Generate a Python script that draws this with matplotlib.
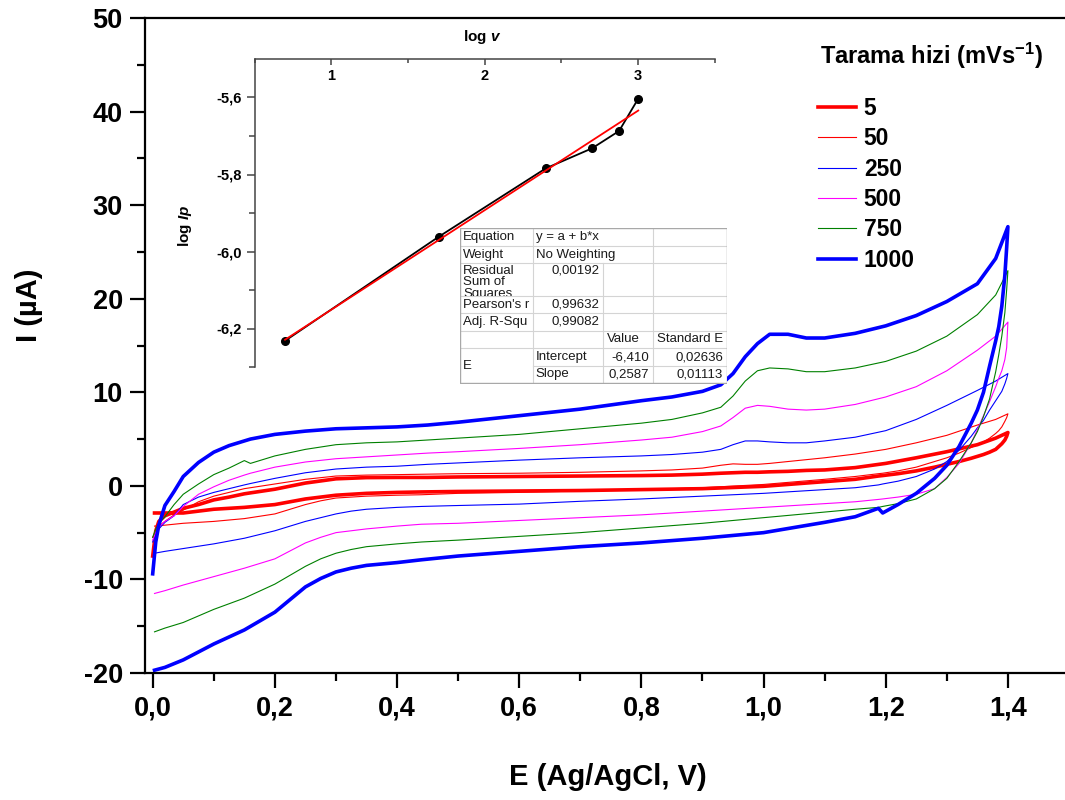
import numpy as np
import matplotlib
matplotlib.use('Agg')
import matplotlib.pyplot as plt
from matplotlib.patches import Rectangle

plt.rcParams['font.family'] = ['Liberation Sans', 'DejaVu Sans']
plt.rcParams['font.weight'] = 'bold'
plt.rcParams['mathtext.fontset'] = 'custom'
plt.rcParams['mathtext.rm'] = 'Liberation Sans:bold'
plt.rcParams['mathtext.bf'] = 'Liberation Sans:bold'
plt.rcParams['mathtext.it'] = 'Liberation Sans:italic:bold'

# --- CV data ---
# forward scan 0 -> 1.4 V
E_fwd = [0.000, 0.005, 0.010, 0.020, 0.035, 0.050, 0.075, 0.100, 0.125, 0.150,
         0.160, 0.200, 0.250, 0.300, 0.350, 0.400, 0.450, 0.500, 0.600, 0.700,
         0.800, 0.850, 0.900, 0.930, 0.950, 0.970, 0.990, 1.010, 1.040, 1.070,
         1.100, 1.150, 1.200, 1.250, 1.300, 1.350, 1.380, 1.400]
# reverse scan 1.4 -> 0 V
E_rev = [1.400, 1.398, 1.395, 1.390, 1.385, 1.380, 1.370, 1.360, 1.350, 1.340,
         1.320, 1.300, 1.280, 1.250, 1.220, 1.195, 1.188, 1.150, 1.100, 1.000,
         0.900, 0.800, 0.700, 0.600, 0.500, 0.440, 0.400, 0.350, 0.325, 0.300,
         0.275, 0.250, 0.200, 0.150, 0.100, 0.050, 0.020, 0.003]

i_fwd_5 = [-7.5, -4.8, -3.8, -3.2, -2.8, -2.4, -2.0, -1.5, -1.2, -0.85,
           -0.75, -0.36, 0.3, 0.75, 0.88, 0.9, 0.9, 0.95, 1.0, 1.05,
           1.1, 1.15, 1.25, 1.35, 1.4, 1.45, 1.45, 1.5, 1.55, 1.65,
           1.7, 1.95, 2.4, 3.0, 3.65, 4.4, 5.1, 5.7]
i_rev_5 = [5.7, 5.3, 4.9, 4.5, 4.2, 3.9, 3.6, 3.35, 3.15, 2.95,
           2.6, 2.3, 2.0, 1.6, 1.3, 1.1, 1.05, 0.7, 0.45, -0.05,
           -0.3, -0.4, -0.5, -0.55, -0.6, -0.65, -0.7, -0.8, -0.9, -1.0,
           -1.2, -1.4, -2.0, -2.3, -2.5, -2.9, -2.9, -2.9]

i_fwd_50 = [-5.5, -4.8, -4.3, -3.8, -3.1, -2.6, -1.7, -1.1, -0.7, -0.3,
            -0.2, 0.2, 0.7, 1.05, 1.15, 1.2, 1.25, 1.3, 1.35, 1.45,
            1.6, 1.7, 1.9, 2.2, 2.35, 2.3, 2.3, 2.4, 2.6, 2.8,
            3.0, 3.4, 3.9, 4.6, 5.4, 6.5, 7.1, 7.7]
i_rev_50 = [7.7, 7.3, 6.9, 6.3, 5.9, 5.6, 5.1, 4.7, 4.4, 4.1,
            3.5, 3.0, 2.6, 2.0, 1.6, 1.35, 1.3, 1.0, 0.7, 0.15,
            -0.2, -0.4, -0.55, -0.7, -0.8, -0.95, -1.0, -1.1, -1.2, -1.3,
            -1.6, -2.0, -3.0, -3.5, -3.8, -4.0, -4.2, -4.3]

i_fwd_250 = [-6.0, -5.2, -4.6, -3.9, -3.2, -2.0, -1.2, -0.7, -0.3, 0.1,
             0.25, 0.8, 1.4, 1.8, 2.0, 2.1, 2.3, 2.45, 2.75, 3.0,
             3.2, 3.35, 3.6, 3.9, 4.4, 4.8, 4.8, 4.7, 4.6, 4.6,
             4.8, 5.2, 5.9, 7.1, 8.6, 10.2, 11.2, 12.0]
i_rev_250 = [12.0, 11.5, 10.9, 10.1, 9.6, 9.1, 8.1, 7.0, 6.2, 5.3,
             3.8, 2.6, 1.8, 1.0, 0.5, 0.2, 0.1, -0.2, -0.4, -0.8,
             -1.1, -1.4, -1.65, -1.95, -2.1, -2.2, -2.3, -2.5, -2.7, -3.0,
             -3.4, -3.8, -4.8, -5.6, -6.2, -6.7, -7.0, -7.2]

i_fwd_500 = [-5.8, -5.0, -4.4, -3.8, -3.2, -2.2, -0.9, -0.1, 0.6, 1.15,
             1.35, 2.0, 2.55, 2.9, 3.1, 3.3, 3.5, 3.65, 4.0, 4.4,
             4.9, 5.2, 5.8, 6.4, 7.3, 8.3, 8.6, 8.5, 8.2, 8.1,
             8.2, 8.7, 9.5, 10.6, 12.3, 14.5, 16.0, 17.5]
i_rev_500 = [17.5, 14.8, 13.5, 12.3, 11.5, 10.6, 9.0, 7.5, 6.0, 4.6,
             2.4, 0.9, -0.3, -0.9, -1.2, -1.4, -1.45, -1.7, -1.9, -2.3,
             -2.7, -3.1, -3.4, -3.7, -4.0, -4.1, -4.3, -4.6, -4.8, -5.0,
             -5.5, -6.1, -7.8, -8.8, -9.7, -10.6, -11.2, -11.5]

i_fwd_750 = [-5.5, -4.6, -4.0, -3.3, -2.0, -0.9, 0.2, 1.2, 1.9, 2.7,
             2.4, 3.2, 3.9, 4.4, 4.6, 4.7, 4.9, 5.1, 5.5, 6.1,
             6.7, 7.1, 7.8, 8.4, 9.6, 11.2, 12.3, 12.6, 12.5, 12.2,
             12.2, 12.6, 13.3, 14.4, 16.0, 18.3, 20.4, 23.0]
i_rev_750 = [23.0, 21.0, 18.5, 16.0, 14.0, 12.2, 9.3, 7.4, 5.8, 4.6,
             2.6, 0.8, -0.3, -1.4, -1.9, -2.2, -2.3, -2.5, -2.8, -3.4,
             -4.0, -4.5, -5.0, -5.4, -5.8, -6.0, -6.2, -6.5, -6.8, -7.2,
             -7.8, -8.6, -10.5, -12.0, -13.2, -14.6, -15.2, -15.6]

i_fwd_1000 = [-9.4, -6.0, -4.2, -2.1, -0.6, 1.0, 2.5, 3.6, 4.3, 4.8,
              5.0, 5.5, 5.85, 6.1, 6.2, 6.3, 6.5, 6.8, 7.5, 8.2,
              9.1, 9.5, 10.1, 10.8, 12.0, 13.8, 15.2, 16.2, 16.2, 15.8,
              15.8, 16.3, 17.1, 18.2, 19.7, 21.6, 24.3, 27.7]
i_rev_1000 = [27.7, 25.5, 22.5, 19.2, 17.0, 15.5, 12.8, 10.0, 8.1, 6.7,
              4.2, 2.2, 0.8, -0.8, -2.0, -2.9, -2.4, -3.3, -3.9, -5.0,
              -5.6, -6.1, -6.5, -7.0, -7.5, -7.9, -8.2, -8.5, -8.8, -9.2,
              -9.9, -10.8, -13.5, -15.4, -16.9, -18.6, -19.4, -19.7]

labels = ['5', '50', '250', '500', '750', '1000']
colors = ['#ff0000', '#ff0000', '#0000ff', '#ff00ff', '#008000', '#0000ff']
widths = [2.6, 0.8, 0.8, 0.8, 0.8, 2.6]
fwd = [i_fwd_5, i_fwd_50, i_fwd_250, i_fwd_500, i_fwd_750, i_fwd_1000]
rev = [i_rev_5, i_rev_50, i_rev_250, i_rev_500, i_rev_750, i_rev_1000]

x_ticks = [0.0, 0.2, 0.4, 0.6, 0.8, 1.0, 1.2, 1.4]
x_labels = ['0,0', '0,2', '0,4', '0,6', '0,8', '1,0', '1,2', '1,4']
y_ticks = [-20, -10, 0, 10, 20, 30, 40, 50]
y_labels = ['-20', '-10', '0', '10', '20', '30', '40', '50']

# inset: log Ip vs log v
scan_rates = [5, 50, 250, 500, 750, 1000]
log_ip = [-6.232, -5.962, -5.784, -5.732, -5.687, -5.603]
fit_a = -6.410
fit_b = 0.2587
in_x_ticks = [1, 2, 3]
in_x_labels = ['1', '2', '3']
in_y_ticks = [-6.2, -6.0, -5.8, -5.6]
in_y_labels = ['-6,2', '-6,0', '-5,8', '-5,6']

table_rows = [
    ['Equation', 'y = a + b*x', '', ''],
    ['Weight', 'No Weighting', '', ''],
    ['Residual\nSum of\nSquares', '0,00192', '', ''],
    ["Pearson's r", '0,99632', '', ''],
    ['Adj. R-Squ', '0,99082', '', ''],
    ['', '', 'Value', 'Standard E'],
    ['E', 'Intercept', '-6,410', '0,02636'],
    ['', 'Slope', '0,2587', '0,01113'],
]

W, H = 1065, 800
fig = plt.figure(figsize=(W / 100, H / 100), dpi=100)

def px_box(l, t, r, b):
    return [l / W, 1 - b / H, (r - l) / W, (b - t) / H]

# main axes
ax = fig.add_axes(px_box(145, 18, 1069, 673))
ax.set_xlim(-0.0126, 1.5)
ax.set_ylim(-20, 50)

handles = []
for lab, c, lw, f, r in zip(labels, colors, widths, fwd, rev):
    e = np.concatenate([E_fwd, E_rev])
    cur = np.concatenate([f, r])
    h, = ax.plot(e, cur, color=c, lw=lw, label=lab, solid_joinstyle='round')
    handles.append(h)

for s in ['left', 'bottom', 'top']:
    ax.spines[s].set_linewidth(1.6)
ax.spines['right'].set_visible(False)
ax.set_xticks(x_ticks)
ax.set_xticklabels(x_labels)
ax.set_yticks(y_ticks)
ax.set_yticklabels(y_labels)
ax.set_xticks(np.arange(0.1, 1.5, 0.2), minor=True)
ax.set_yticks(np.arange(-15, 50, 10), minor=True)
ax.tick_params(which='major', direction='out', length=11, width=1.6,
               labelsize=19.5, pad=5)
ax.tick_params(which='minor', direction='out', length=6, width=1.6)
ax.tick_params(top=False, right=False)

ax.set_xlabel('E (Ag/AgCl, V)', fontsize=21, fontweight='bold')
ax.xaxis.set_label_coords((608 - 145) / 924, -(763 - 673) / 655)
ax.xaxis.label.set_va('top')
ax.set_ylabel('I (µA)', fontsize=21, fontweight='bold')
ax.yaxis.set_label_coords((43 - 145) / 924, (673 - 305) / 655)

leg = ax.legend(handles=handles, loc='upper left',
                bbox_to_anchor=(818 / W, 1 - 97 / H),
                bbox_transform=fig.transFigure, frameon=False,
                borderpad=0, borderaxespad=0, handlelength=1.65,
                handletextpad=0.35, labelspacing=0.32,
                prop={'size': 16.5, 'weight': 'bold'})
fig.text(820 / W, 1 - 56 / H, 'Tarama hizi (mVs$^{-1}$)', fontsize=17,
         fontweight='bold', ha='left', va='center')

# inset axes
ax_in = fig.add_axes(px_box(254.5, 59, 715, 367))
ax_in.patch.set_alpha(0)
ax_in.set_xlim(0.5, 3.5)
ax_in.set_ylim(-6.3, -5.5)
log_v = np.log10(scan_rates)
ax_in.plot(log_v, log_ip, color='black', lw=1.3, marker='o', ms=5.5, zorder=3)
fit_x = np.array([log_v[0], log_v[-1]])
ax_in.plot(fit_x, fit_a + fit_b * fit_x, color='#ff0000', lw=1.3, zorder=4)

for s in ['right', 'bottom']:
    ax_in.spines[s].set_visible(False)
for s in ['left', 'top']:
    ax_in.spines[s].set_color('#444444')
    ax_in.spines[s].set_linewidth(1.1)
ax_in.xaxis.tick_top()
ax_in.set_xticks(in_x_ticks)
ax_in.set_xticklabels(in_x_labels)
ax_in.set_xticks([0.5, 1.5, 2.5, 3.5], minor=True)
ax_in.set_yticks(in_y_ticks)
ax_in.set_yticklabels(in_y_labels)
ax_in.set_yticks([-6.3, -6.1, -5.9, -5.7], minor=True)
ax_in.tick_params(axis='x', which='major', direction='in', length=4, width=1.1,
                  color='#444444', labelsize=10.5, pad=-17)
ax_in.tick_params(axis='x', which='minor', direction='in', length=3, width=1.1,
                  color='#444444')
ax_in.tick_params(axis='y', which='major', direction='out', length=6, width=1.1,
                  color='#444444', labelsize=10.5, pad=3)
ax_in.tick_params(axis='y', which='minor', direction='out', length=4, width=1.1,
                  color='#444444')
ax_in.text((482 - 254.5) / 460.5, (367 - 37) / 308, 'log $v$',
           transform=ax_in.transAxes, ha='center', va='center', fontsize=11)
ax_in.text((185 - 254.5) / 460.5, (367 - 226) / 308, 'log $Ip$',
           transform=ax_in.transAxes, ha='center', va='center', fontsize=11,
           rotation=90)

# fit result table
tl, tt, tr, tb = 460, 228, 727, 384
ax_t = fig.add_axes(px_box(tl, tt, tr, tb))
ax_t.set_xlim(tl, tr)
ax_t.set_ylim(tb, tt)
ax_t.axis('off')
ax_t.add_patch(Rectangle((tl, tt), tr - tl, tb - tt, facecolor='white',
                         edgecolor='none', zorder=0))
cols = [460, 532.7, 603, 653, 727]
rows = [228.3, 246, 263.3, 296, 313.3, 330.7, 348.3, 365.7, 383.3]
grid_c = '#d4d4d4'
for k in range(1, len(rows) - 1):
    x0 = cols[1] if k == 7 else cols[0]
    ax_t.plot([x0, cols[-1]], [rows[k], rows[k]], color=grid_c, lw=0.8)
ax_t.plot([cols[1], cols[1]], [rows[0], rows[-1]], color=grid_c, lw=0.8)
ax_t.plot([cols[2], cols[2]], [rows[2], rows[-1]], color=grid_c, lw=0.8)
ax_t.plot([cols[3], cols[3]], [rows[0], rows[-1]], color=grid_c, lw=0.8)
ax_t.add_patch(Rectangle((cols[0], rows[0]), cols[-1] - cols[0],
                         rows[-1] - rows[0], facecolor='none',
                         edgecolor='#a8a8a8', lw=1.0, zorder=5))

tkw = dict(fontsize=9.5, fontweight='normal', color='#1a1a1a')
for k, row in enumerate(table_rows):
    y0, y1 = rows[k], rows[k + 1]
    yc = (y0 + y1) / 2
    lab, c1, c2, c3 = row
    if k == 2:
        t = ax_t.text(cols[0] + 3, y0 + 1.5, lab, ha='left', va='top',
                      linespacing=0.95, clip_on=True, **tkw)
        t.set_clip_path(Rectangle((cols[0], y0), cols[1] - cols[0], y1 - y0,
                                  transform=ax_t.transData))
        ax_t.text(cols[2] - 4, y0 + 1.5, c1, ha='right', va='top', **tkw)
        continue
    if k == 6:
        ax_t.text(cols[0] + 3, rows[7], lab, ha='left', va='center', **tkw)
    elif lab:
        ax_t.text(cols[0] + 3, yc, lab, ha='left', va='center', **tkw)
    if k in (0, 1, 6, 7):
        ax_t.text(cols[1] + 3, yc, c1, ha='left', va='center', **tkw)
    elif c1:
        ax_t.text(cols[2] - 4, yc, c1, ha='right', va='center', **tkw)
    if k == 5:
        ax_t.text(cols[2] + 4, yc, c2, ha='left', va='center', **tkw)
        ax_t.text(cols[3] + 4, yc, c3, ha='left', va='center', **tkw)
    elif c2:
        ax_t.text(cols[3] - 4, yc, c2, ha='right', va='center', **tkw)
        ax_t.text(cols[4] - 4, yc, c3, ha='right', va='center', **tkw)

fig.savefig('out.png', dpi=100)
